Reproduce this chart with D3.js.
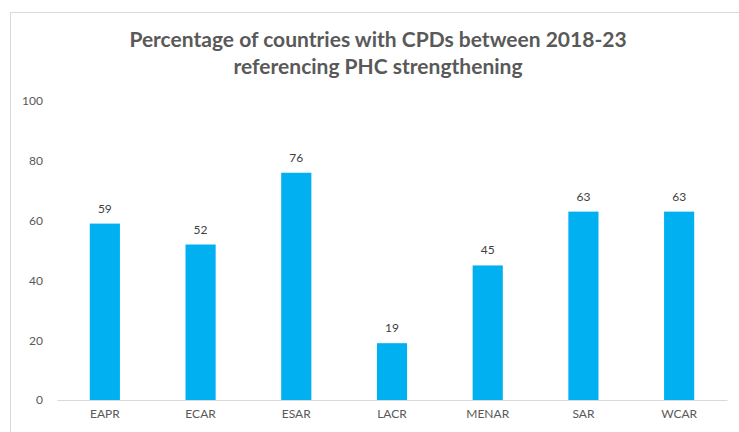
<!DOCTYPE html>
<html>
<head>
<meta charset="utf-8">
<script src="https://cdn.jsdelivr.net/npm/d3@7"></script>
<style>
  body { margin: 0; background: #fff; }
  #chart { width: 739px; height: 432px; }
  text { font-family: "Lato", "Open Sans", sans-serif; }
</style>
</head>
<body>
<div id="chart"></div>
<script>
var categories = ["EAPR", "ECAR", "ESAR", "LACR", "MENAR", "SAR", "WCAR"];
var values = [59, 52, 76, 19, 45, 63, 63];
var yTicks = [0, 20, 40, 60, 80, 100];
var titleLines = ["Percentage of countries with CPDs between 2018-23", "referencing PHC strengthening"];

var W = 739, H = 432;
var margin = { top: 101, right: 12, bottom: 32, left: 57 },
    width = W - margin.left - margin.right,
    height = H - margin.top - margin.bottom;

var svg = d3.select("#chart").append("svg")
    .attr("width", W)
    .attr("height", H);

// chart frame
svg.append("rect")
    .attr("x", 10.5).attr("y", 12.5)
    .attr("width", 740).attr("height", 440)
    .attr("fill", "none")
    .attr("stroke", "#d9d9d9");

// Title
svg.selectAll(".title")
    .data(titleLines)
    .enter().append("text")
    .attr("class", "title")
    .attr("x", 378)
    .attr("y", function (d, i) { return 47 + i * 27; })
    .attr("text-anchor", "middle")
    .style("font-size", "21px")
    .style("font-weight", "bold")
    .attr("fill", "#595959")
    .text(function (d) { return d; });

var g = svg.append("g")
    .attr("transform", "translate(" + margin.left + "," + margin.top + ")");

var x = d3.scaleBand()
    .domain(categories)
    .range([0, width])
    .paddingInner(0.685)
    .paddingOuter(0.3425);

var y = d3.scaleLinear()
    .domain([0, 100])
    .range([height, 0]);

// y axis labels only
var yAxis = g.append("g")
    .call(d3.axisLeft(y).tickValues(yTicks).tickSize(0).tickPadding(14));
yAxis.select(".domain").remove();
yAxis.selectAll("text")
    .style("font-size", "12px")
    .attr("fill", "#595959");

// Bars
g.selectAll(".bar")
    .data(values)
    .enter().append("rect")
    .attr("class", "bar")
    .attr("x", function (d, i) { return x(categories[i]); })
    .attr("width", x.bandwidth())
    .attr("y", function (d) { return y(d); })
    .attr("height", function (d) { return height - y(d); })
    .attr("fill", "#00B0F0");

// Value labels
g.selectAll(".val")
    .data(values)
    .enter().append("text")
    .attr("class", "val")
    .attr("x", function (d, i) { return x(categories[i]) + x.bandwidth() / 2; })
    .attr("y", function (d) { return y(d) - 11; })
    .attr("text-anchor", "middle")
    .style("font-size", "12px")
    .attr("fill", "#404040")
    .text(function (d) { return d; });

// x axis
var xAxis = g.append("g")
    .attr("transform", "translate(0," + height + ")")
    .call(d3.axisBottom(x).tickSize(0).tickPadding(9));
xAxis.select(".domain").attr("stroke", "#d9d9d9");
xAxis.selectAll("text")
    .style("font-size", "12px")
    .attr("fill", "#595959");
</script>
</body>
</html>
